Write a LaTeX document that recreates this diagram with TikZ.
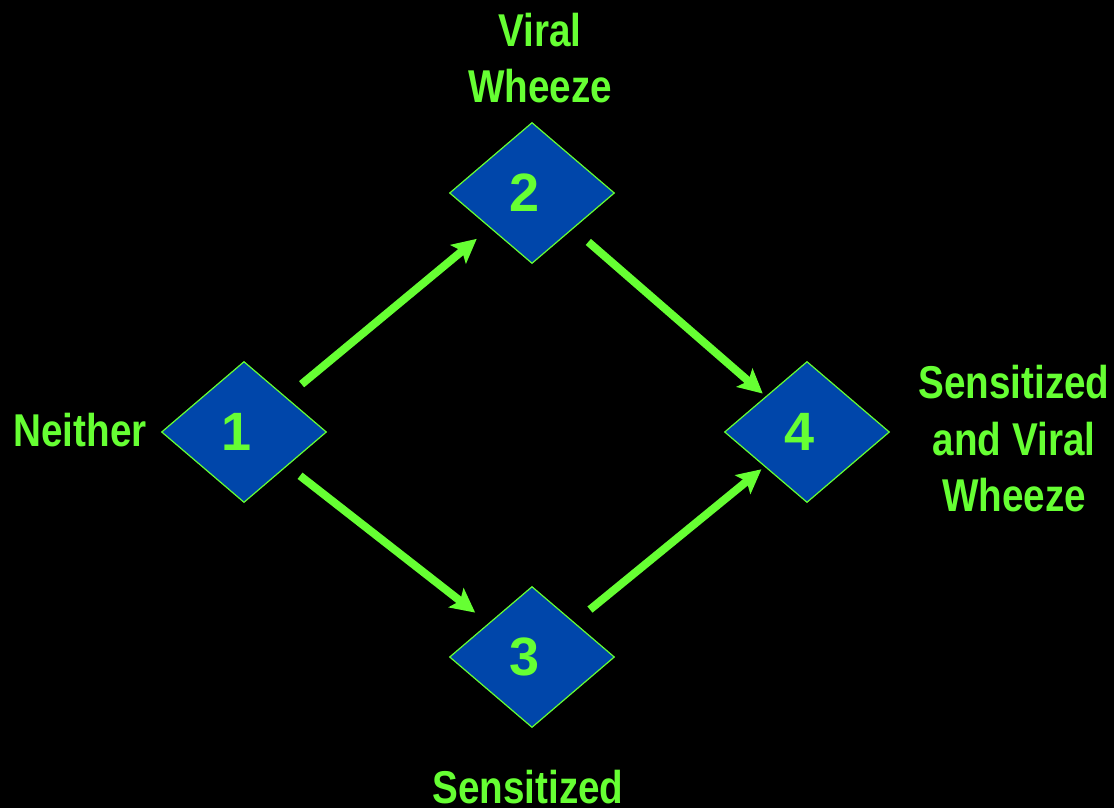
\documentclass[tikz,border=0pt]{standalone}
\usepackage{fontspec}
\setmainfont{Liberation Sans}[FakeStretch=0.84]
\newfontfamily\digitfont{Liberation Sans}
\usetikzlibrary{shapes.geometric,arrows.meta}
\definecolor{lgreen}{RGB}{102,255,51}
\definecolor{dblue}{RGB}{0,70,170}
\tikzset{
  stage/.style={shape=diamond, draw=lgreen, line width=1.2pt, fill=dblue,
    minimum width=165pt, minimum height=141pt, inner sep=0pt,
    text=lgreen, font=\digitfont\bfseries\fontsize{54}{60}\selectfont},
  lbl/.style={text=lgreen, align=center, inner sep=0pt,
    font=\bfseries\fontsize{46}{56.5}\selectfont},
  arr/.style={draw=lgreen, line width=8pt,
    -{Stealth[length=24pt,width=24pt,inset=5pt]}},
}
\newcommand{\dg}[1]{#1\kern14pt}
\begin{document}
\begin{tikzpicture}[x=1pt,y=-1pt]
\useasboundingbox[fill=black] (0,0) rectangle (1114,808);
\node[stage] (n1) at (244,432) {\dg{1}};
\node[stage] (n2) at (532,193) {\dg{2}};
\node[stage] (n3) at (532,657) {\dg{3}};
\node[stage] (n4) at (807,432) {\dg{4}};
\draw[arr, shorten <=20pt, shorten >=17pt] (n1) -- (n2);
\draw[arr, shorten <=20pt, shorten >=4pt] (n2) -- (n4);
\draw[arr, shorten <=16pt, shorten >=17pt] (n1) -- (n3);
\draw[arr, shorten <=20pt, shorten >=4pt] (n3) -- (n4);
\node[lbl] (l2) at (540,58) {Viral\\Wheeze};
\node[lbl] (l1) at (80,430) {Neither};
\node[lbl] (l4) at (1014,439) {Sensitized\\and Viral\\Wheeze};
\node[lbl, anchor=base] (l3) at (528,803) {Sensitized};
\end{tikzpicture}
\end{document}
